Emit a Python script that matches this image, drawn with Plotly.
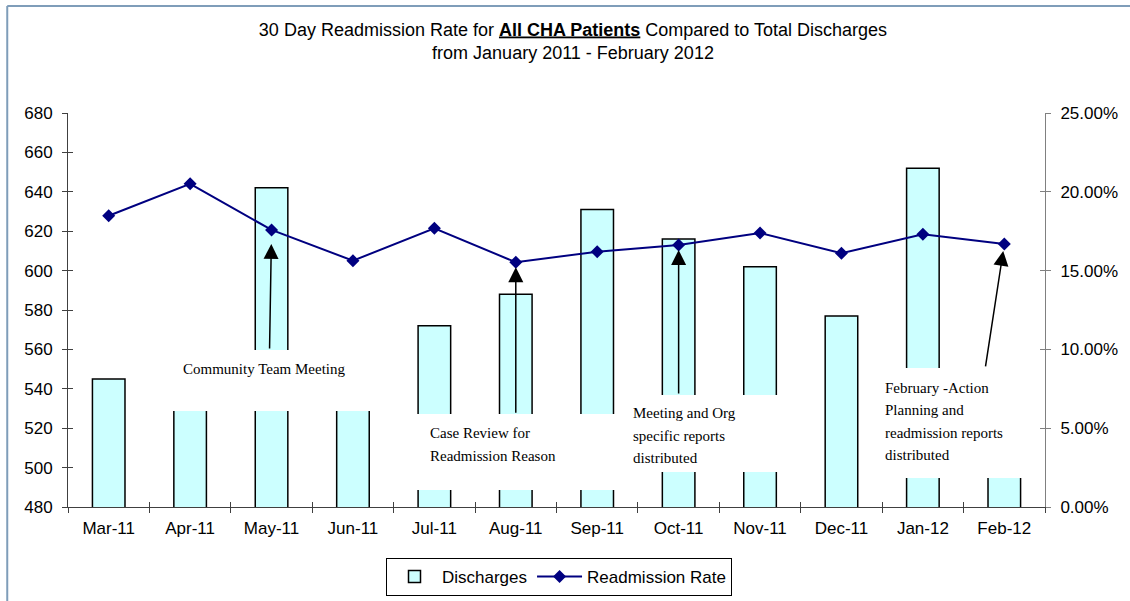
import plotly.graph_objects as go

months = ["Mar-11", "Apr-11", "May-11", "Jun-11", "Jul-11", "Aug-11",
          "Sep-11", "Oct-11", "Nov-11", "Dec-11", "Jan-12", "Feb-12"]
discharges = [545, 540, 642, 538, 572, 588, 631, 616, 602, 577, 652, 530]
readmission_rate = [0.1848, 0.2051, 0.1758, 0.1563, 0.1768, 0.1553,
                    0.1620, 0.1662, 0.1739, 0.1610, 0.1730, 0.1669]
left_ticks = list(range(480, 681, 20))
right_ticks = [0, 0.05, 0.10, 0.15, 0.20, 0.25]

W, H = 1130, 601
L, R, T, B = 68, 81, 113, 94
PW, PH = W - L - R, H - T - B


def px(x):
    return (x - L) / PW


def py(y):
    return (H - B - y) / PH


SANS = "Arial, Liberation Sans, sans-serif"
SERIF = "Times New Roman, Liberation Serif, serif"

fig = go.Figure()
fig.add_trace(go.Bar(
    x=months, y=discharges, name="Discharges", width=0.4,
    marker=dict(color="#CCFFFF", line=dict(color="#000000", width=1.5)),
    yaxis="y",
))
fig.add_trace(go.Scatter(
    x=months, y=readmission_rate, name="Readmission Rate", mode="lines+markers",
    line=dict(color="#000080", width=2),
    marker=dict(symbol="diamond", size=10, color="#000080"),
    yaxis="y2",
))
# empty helper traces so the inner-tick axes get drawn (Excel-style cross ticks)
fig.add_trace(go.Scatter(x=[None], y=[None], xaxis="x2", yaxis="y3",
                         showlegend=False, hoverinfo="skip"))
fig.add_trace(go.Scatter(x=[None], y=[None], xaxis="x2", yaxis="y4",
                         showlegend=False, hoverinfo="skip"))

shapes = []
# white text boxes (cover the bars)
boxes = [(140, 350, 398, 411), (405, 414, 620, 490), (623, 395, 800, 472), (875, 368, 1035, 478)]
for x0, y0, x1, y1 in boxes:
    shapes.append(dict(type="rect", xref="paper", yref="paper",
                       x0=px(x0), x1=px(x1), y0=py(y1), y1=py(y0),
                       fillcolor="white", line=dict(width=0), layer="above"))
# outer frame (left and top edges)
frame_col = "#7f9db9"
shapes.append(dict(type="line", xref="paper", yref="paper", x0=px(7), x1=px(7),
                   y0=py(6), y1=py(610), line=dict(color=frame_col, width=2)))
shapes.append(dict(type="line", xref="paper", yref="paper", x0=px(7), x1=px(1140),
                   y0=py(6), y1=py(6), line=dict(color=frame_col, width=2)))

annotations = []
text_lines = [
    (181, 369, "Community Team Meeting"),
    (429, 433, "Case Review for"),
    (429, 456, "Readmission Reason"),
    (633, 413, "Meeting and Org"),
    (633, 436, "specific reports"),
    (633, 458, "distributed"),
    (886, 388, "February -Action"),
    (886, 410, "Planning and"),
    (886, 433, "readmission reports"),
    (886, 455, "distributed"),
]
for x, y, t in text_lines:
    annotations.append(dict(xref="paper", yref="paper", x=px(x), y=py(y), text=t,
                            showarrow=False, xanchor="left", yanchor="middle",
                            font=dict(family=SERIF, size=15, color="black")))

arrows = [
    ("May-11", 2, -2, 120, 14),
    ("Aug-11", 5, 0, 152, 5),
    ("Oct-11", 7, 0, 150, 5),
    ("Feb-12", 11, -19, 124, 7),
]
for m, i, ax, ay, so in arrows:
    annotations.append(dict(xref="x", yref="y2", x=m, y=readmission_rate[i],
                            ax=ax, ay=ay, showarrow=True, arrowhead=2,
                            arrowsize=2, arrowwidth=1.5, arrowcolor="black",
                            standoff=so, text=""))

boundary_ticks = [i + 0.5 for i in range(len(months) - 1)]

fig.update_layout(
    width=W, height=H,
    margin=dict(l=L, r=R, t=T, b=B),
    paper_bgcolor="white", plot_bgcolor="white",
    title=dict(
        text="30 Day Readmission Rate for <b><u>All CHA Patients</u></b> Compared to Total Discharges<br>from January 2011 - February 2012",
        x=573 / W, xanchor="center", y=1 - 35.5 / H, yanchor="middle",
        font=dict(family=SANS, size=18, color="black"),
    ),
    xaxis=dict(
        type="category", showline=True, linecolor="#404040", linewidth=1,
        ticks="outside", ticklen=5, tickcolor="#404040", tickson="boundaries",
        showgrid=False, tickfont=dict(family=SANS, size=17, color="black"),
        ticklabelstandoff=6, range=[-0.5, 11.5],
    ),
    xaxis2=dict(
        overlaying="x", anchor="y", side="bottom", range=[-0.5, 11.5],
        tickvals=boundary_ticks, ticks="inside", ticklen=5, tickcolor="#404040",
        showticklabels=False, showline=False, showgrid=False, zeroline=False,
    ),
    yaxis=dict(
        range=[480, 680], tickvals=left_ticks, showline=True, linecolor="#404040",
        linewidth=1, ticks="outside", ticklen=5, tickcolor="#404040",
        showgrid=False, zeroline=False,
        tickfont=dict(family=SANS, size=17, color="black"), ticklabelstandoff=6,
    ),
    yaxis2=dict(
        range=[0, 0.25], tickvals=right_ticks, tickformat=".2%", overlaying="y",
        side="right", showline=True, linecolor="#808080", linewidth=1,
        ticks="outside", ticklen=5, tickcolor="#808080", showgrid=False,
        zeroline=False, tickfont=dict(family=SANS, size=17, color="black"),
        ticklabelstandoff=6,
    ),
    yaxis3=dict(
        range=[480, 680], tickvals=left_ticks[1:], overlaying="y", side="left",
        anchor="x2", ticks="inside", ticklen=5, tickcolor="#404040",
        showticklabels=False, showline=False, showgrid=False, zeroline=False,
    ),
    yaxis4=dict(
        range=[0, 0.25], tickvals=right_ticks[1:], overlaying="y", side="right",
        anchor="x2", ticks="inside", ticklen=5, tickcolor="#808080",
        showticklabels=False, showline=False, showgrid=False, zeroline=False,
    ),
    legend=dict(
        orientation="h", xref="container", yref="container",
        x=559 / W, y=1 - 577 / H, xanchor="center", yanchor="middle",
        bordercolor="#000000", borderwidth=1, bgcolor="white", itemwidth=45,
        font=dict(family=SANS, size=17, color="black"),
    ),
    showlegend=True,
    shapes=shapes,
    annotations=annotations,
)

fig.write_html("out.html", config={"displayModeBar": False},
               post_script="document.body.style.margin='0';document.body.style.overflow='hidden';")
